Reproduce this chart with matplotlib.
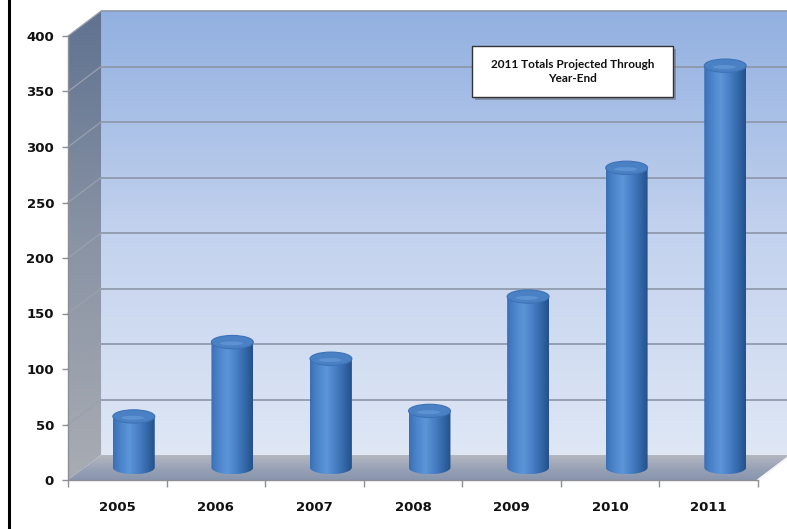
import numpy as np
import matplotlib
matplotlib.use('Agg')
import matplotlib.pyplot as plt
from matplotlib.patches import Polygon, Ellipse, Rectangle
from matplotlib.colors import LinearSegmentedColormap
from matplotlib.transforms import Affine2D
from matplotlib.lines import Line2D

# data
years = ['2005', '2006', '2007', '2008', '2009', '2010', '2011']
totals = [46, 113, 98, 51, 154, 270, 362]
y_ticks = [0, 50, 100, 150, 200, 250, 300, 350, 400]
note = '2011 Totals Projected Through\nYear-End'

fig = plt.figure(figsize=(7.87, 5.29), dpi=100)
ax = fig.add_axes([68 / 787, 49 / 529, 690 / 787, 444 / 529])
ax.set_facecolor('none')

# depth of the 3d box, in data units
DX, DY = 0.335, 22.5
back = Affine2D().translate(DX, DY) + ax.transData
mid = Affine2D().translate(DX / 2, DY / 2) + ax.transData

wall_cmap = LinearSegmentedColormap.from_list('wall', ['#dfe7f5', '#c3d2ee', '#92b0e0'])
side_cmap = LinearSegmentedColormap.from_list('side', ['#a9acb3', '#8a94a5', '#5f7290'])
floor_cmap = LinearSegmentedColormap.from_list('floor', ['#b4b7bf', '#9aa3b6', '#8795ae'])
cyl_cmap = LinearSegmentedColormap.from_list(
    'cyl', ['#3a6fb5', '#4d86cc', '#5d95d8', '#4a80c6', '#3469aa', '#24508c'])

vgrad = np.linspace(0, 1, 256).reshape(-1, 1)
hgrad = np.linspace(0, 1, 256).reshape(1, -1)

# back wall
im = ax.imshow(vgrad, cmap=wall_cmap, origin='lower', aspect='auto',
               extent=(-0.5, 7.0, 0, 400), transform=back, zorder=0)
im.set_clip_box(fig.bbox)
ax.hlines(y_ticks[1:], -0.5, 7.0, transform=back, colors='#8c96a8', lw=1.2,
          zorder=1, clip_on=False)

# left wall
side = Polygon([(-0.5, 0), (-0.5, 400), (-0.5 + DX, 400 + DY), (-0.5 + DX, DY)],
               closed=True, facecolor='none', edgecolor='none')
ax.add_patch(side)
im = ax.imshow(vgrad, cmap=side_cmap, origin='lower', aspect='auto',
               extent=(-0.5, -0.5 + DX, 0, 400 + DY), zorder=1)
im.set_clip_path(side)
im.set_clip_box(fig.bbox)
for v in y_ticks[1:]:
    ax.plot([-0.5, -0.5 + DX], [v, v + DY], color='#9aa1ad', lw=0.9,
            zorder=2, clip_on=False)

# floor
floor = Polygon([(-0.5, 0), (6.5, 0), (6.5 + DX, DY), (-0.5 + DX, DY)],
                closed=True, facecolor='none', edgecolor='none')
ax.add_patch(floor)
im = ax.imshow(vgrad[::-1], cmap=floor_cmap, origin='lower', aspect='auto',
               extent=(-0.5, 6.5 + DX, 0, DY), zorder=1)
im.set_clip_path(floor)
im.set_clip_box(fig.bbox)
ax.plot([6.5, 6.5 + DX], [0, DY], color='#f4f6f9', lw=1.5, zorder=2, clip_on=False)

# cylinders
w = 0.425
eh = 12.0
t = np.linspace(np.pi, 2 * np.pi, 60)
for i, v in enumerate(totals):
    pts = [(i - w / 2, v), (i - w / 2, 0)]
    pts += list(zip(i + w / 2 * np.cos(t), eh / 2 * np.sin(t)))
    pts += [(i + w / 2, v)]
    body = Polygon(pts, closed=True, facecolor='none', edgecolor='none', transform=mid)
    ax.add_patch(body)
    im = ax.imshow(hgrad, cmap=cyl_cmap, aspect='auto',
                   extent=(i - w / 2, i + w / 2, -eh / 2, v), transform=mid, zorder=3)
    im.set_clip_path(body)
    im.set_clip_box(fig.bbox)
    ax.add_patch(Ellipse((i, v), w, eh, transform=mid, facecolor='#4a80c4',
                         edgecolor='#3d72b6', lw=0.8, zorder=4))
    ax.add_patch(Ellipse((i - 0.01, v - eh * 0.1), w * 0.55, eh * 0.3, transform=mid,
                         facecolor='#6a9fdc', edgecolor='none', alpha=0.6, zorder=5))

ax.set_xlim(-0.5, 6.5)
ax.set_ylim(0, 400)

# axes and ticks
for s in ['top', 'right']:
    ax.spines[s].set_visible(False)
for s in ['left', 'bottom']:
    ax.spines[s].set_color('#8d8f94')
    ax.spines[s].set_linewidth(1.0)
    ax.spines[s].set_zorder(6)

ax.set_yticks(y_ticks)
ax.set_yticklabels([str(v) for v in y_ticks], fontsize=9.5, fontweight='bold', color='#111111')
ax.tick_params(axis='y', length=4.5, width=1.0, color='#8d8f94', pad=5.5)
ax.set_xticks(range(len(years)))
ax.set_xticklabels(years, fontsize=9.5, fontweight='bold', color='#111111')
ax.set_xticks(np.arange(-0.5, 7.0, 1.0), minor=True)
ax.tick_params(axis='x', which='major', length=0, pad=15)
ax.tick_params(axis='x', which='minor', length=5, width=1.0, color='#8d8f94')

# note box
fig.patches.append(Rectangle((475 / 787, (529 - 100) / 529), 201 / 787, 51 / 529,
                             transform=fig.transFigure, facecolor='#6d7280',
                             edgecolor='none', alpha=0.6, zorder=7))
fig.patches.append(Rectangle((472 / 787, (529 - 97) / 529), 201 / 787, 51 / 529,
                             transform=fig.transFigure, facecolor='white',
                             edgecolor='#333333', lw=1.0, zorder=8))
fig.text(572.5 / 787, (529 - 71.5) / 529, note, ha='center', va='center',
         family=['Lato', 'DejaVu Sans'], fontsize=8.5, fontweight='bold',
         color='#111111', zorder=9, linespacing=1.25)

# black edge on the left
fig.add_artist(Line2D([8.5 / 787, 8.5 / 787], [0, 1], transform=fig.transFigure,
                      color='black', lw=2.2))

fig.savefig('out.png', dpi=100)
